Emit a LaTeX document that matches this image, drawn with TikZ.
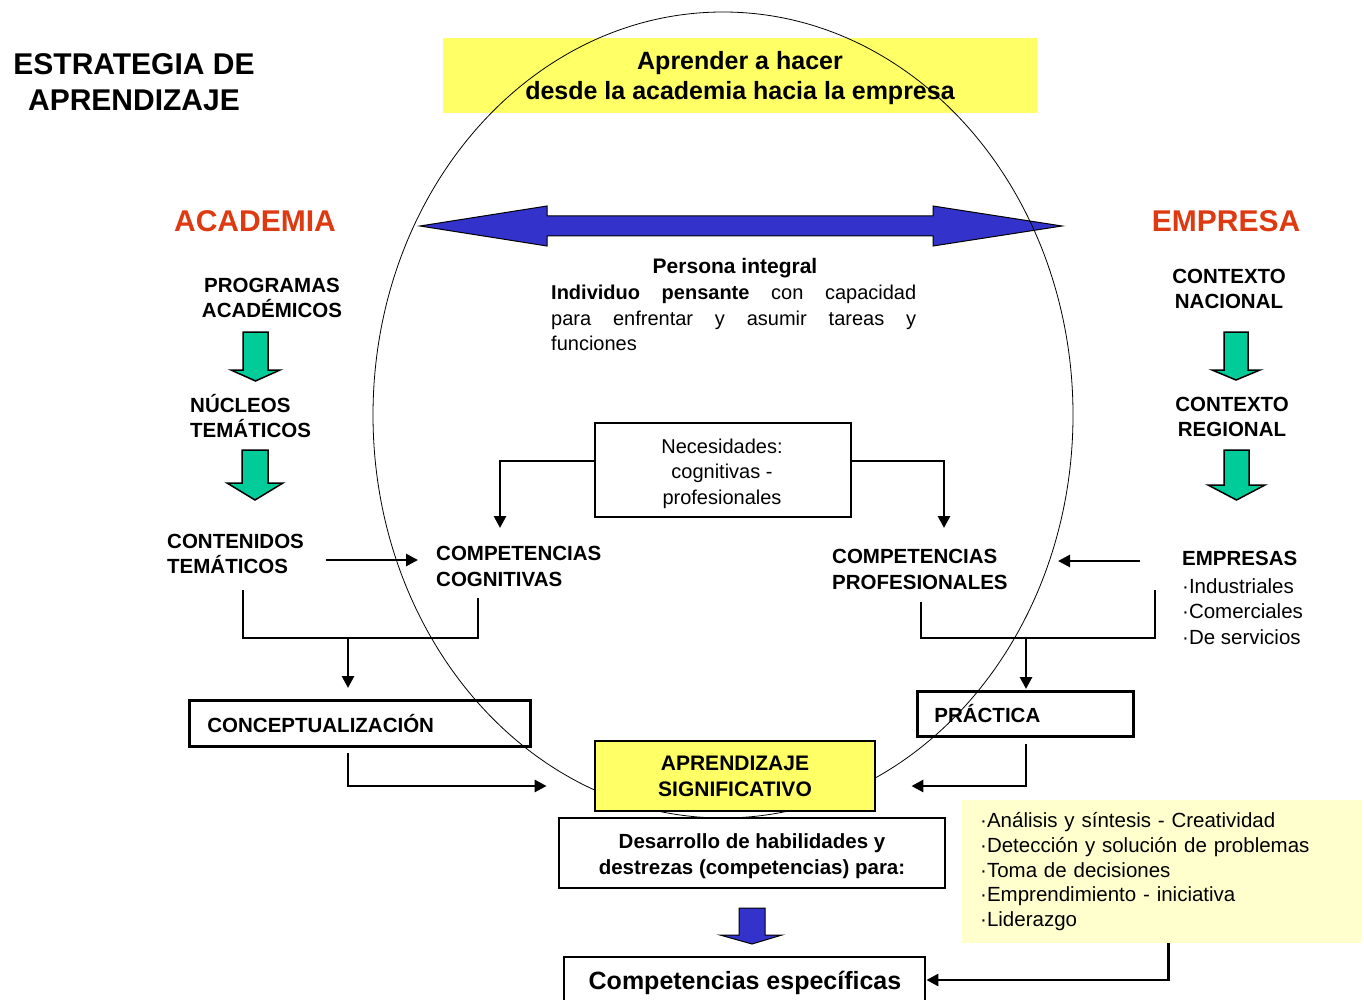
\documentclass[tikz,border=0pt]{standalone}
\usepackage{fontspec}
\setmainfont{Liberation Sans}
\usetikzlibrary{arrows.meta}
\definecolor{topyellow}{RGB}{255,255,102}
\definecolor{acad}{RGB}{221,58,18}
\definecolor{gfill}{RGB}{0,204,153}
\definecolor{bfill}{RGB}{51,51,204}
\definecolor{lyellow}{RGB}{255,255,206}
\newcommand{\myfs}[2]{\fontsize{#1}{#2}\selectfont}
\begin{document}
\begin{tikzpicture}[x=1pt,y=-1pt,
  lbl/.style={font=\bfseries\myfs{20.5}{25.5}, inner sep=0pt, align=left},
  reg/.style={font=\myfs{20}{25.5}, inner sep=0pt, align=left},
  head/.style={font=\bfseries\myfs{30}{36}, text=acad, inner sep=0pt},
  boxed/.style={draw, line width=2.8pt, inner sep=0pt},
  conn/.style={line width=2.8pt, -{Triangle[length=12pt,width=12pt]}},
  plain/.style={line width=2.8pt},
  green block/.style={draw=black, line width=1.5pt, fill=gfill, line join=miter},
  blue block/.style={draw=black, line width=1pt, fill=bfill, line join=miter},
]
\useasboundingbox (0,0) rectangle (1364,1000);
\clip (0,0) rectangle (1364,1000);

% title and top box
\node[font=\bfseries\myfs{30}{36}, align=center, inner sep=0pt] (title) at (134,82) {ESTRATEGIA DE\\APRENDIZAJE};
\node[fill=topyellow, minimum width=594pt, minimum height=75pt, inner sep=0pt] (topbox) at (740,75.5) {};
\node[font=\bfseries\myfs{25}{30}, align=center, inner sep=0pt] (toptext) at (740,78)
      {Aprender a hacer\\desde la academia hacia la empresa};

\node[head] (acad) at (255,221) {ACADEMIA};
\node[head] (empr) at (1226,221) {EMPRESA};

% blue double arrow
\draw[blue block] (420,226) -- (547,206) -- (547,216) -- (933,216) -- (933,206) -- (1062,226)
  -- (933,246) -- (933,236) -- (547,236) -- (547,246) -- cycle;

% central text
\node[font=\bfseries\myfs{21}{25}, inner sep=0pt] (persona) at (735,268.5) {Persona integral};
\node[reg, text width=365pt, align=justify, anchor=north west] (indiv) at (551,285)
  {{\bfseries Individuo pensante} con capacidad\linebreak para enfrentar y asumir tareas y\linebreak funciones};

% left column
\node[lbl, align=center] (prog) at (272,298) {PROGRAMAS\\ACADÉMICOS};
\draw[green block] (243,332) -- (268,332) -- (268,370) -- (280,370) -- (255.5,381) -- (231,370) -- (243,370) -- cycle;
\node[lbl, anchor=west] (nuc) at (190,416) {NÚCLEOS\\TEMÁTICOS};
\draw[green block] (242,450) -- (268,450) -- (268,483) -- (283,483) -- (255,500) -- (227,483) -- (242,483) -- cycle;
\node[lbl, anchor=west] (cont) at (167,554) {CONTENIDOS\\TEMÁTICOS};
\node[lbl, anchor=west] (cogn) at (436,566.5) {COMPETENCIAS\\COGNITIVAS};

% right column
\node[lbl, align=center] (nac) at (1229,289) {CONTEXTO\\NACIONAL};
\draw[green block] (1224,332) -- (1248,332) -- (1248,370) -- (1260,370) -- (1236,380) -- (1212,370) -- (1224,370) -- cycle;
\node[lbl, align=center] (regl) at (1232,417) {CONTEXTO\\REGIONAL};
\draw[green block] (1224,450) -- (1249,450) -- (1249,485) -- (1265,485) -- (1236.5,500) -- (1208,485) -- (1224,485) -- cycle;
\node[reg, anchor=west, font=\myfs{20.5}{25.5}] (emp) at (1182,598) {{\bfseries EMPRESAS}\\[2pt]·Industriales\\·Comerciales\\·De servicios};
\node[lbl, anchor=west] (prof) at (832,569.5) {COMPETENCIAS\\PROFESIONALES};

% necesidades
\node[boxed, minimum width=256pt, minimum height=94pt] (nec) at (723,470) {};
\node[font=\myfs{20}{25.5}, align=center, inner sep=0pt] (nectext) at (722,473.5)
  {Necesidades:\\cognitivas -\\profesionales};

% boxes
\node[boxed, anchor=north west, minimum width=341pt, minimum height=46pt, text width=305pt,
      inner xsep=18pt, align=left, font=\bfseries\myfs{20.5}{25.5}] (concept) at (188,699) {CONCEPTUALIZACIÓN};
\node[boxed, anchor=north west, minimum width=216pt, minimum height=45pt, text width=182pt,
      inner xsep=17pt, align=left, font=\bfseries\myfs{20.5}{25.5}] (practica) at (916,690) {PRÁCTICA};

% helper coordinates
\coordinate (cogin) at (500,528);
\coordinate (profin) at (944,528);
\coordinate (contout) at (326,560);
\coordinate (cogarr) at (418,560);
\coordinate (lb1) at (243,590);
\coordinate (lb2) at (478,598);
\coordinate (lbm) at (348,638);
\coordinate (rb1) at (921,602);
\coordinate (rb2) at (1155,590);
\coordinate (rbm) at (1026,638);
\coordinate (empout) at (1140,561);
\coordinate (profarr) at (1058,561);

% connectors
\draw[conn] ([yshift=9pt]nec.west) -| (cogin);
\draw[conn] ([yshift=9pt]nec.east) -| (profin);
\draw[conn] (contout) -- (cogarr);
\draw[conn] (empout) -- (profarr);
\draw[plain] (lb1) |- (lbm) -| (lb2);
\draw[plain] (rb1) |- (rbm) -| (rb2);
\draw[conn, shorten >=11pt] (lbm) -- (concept.north -| lbm);
\draw[conn, shorten >=1pt] (rbm) -- (practica.north -| rbm);

% ellipse
\draw[line width=0.8pt] (723,415) ellipse [x radius=350pt, y radius=403pt];

% central bottom boxes
\node[boxed, fill=topyellow, minimum width=280pt, minimum height=70pt, align=center,
      font=\bfseries\myfs{21}{26}] (apr) at (735,776) {APRENDIZAJE\\SIGNIFICATIVO};
\node[boxed, fill=white, minimum width=386pt, minimum height=70pt] (des) at (752,853) {};
\node[font=\bfseries\myfs{20.5}{26}, align=center, inner sep=0pt] (destext) at (752,856)
  {Desarrollo de habilidades y\\destrezas (competencias) para:};
\draw[blue block] (739,908) -- (765,908) -- (765,935) -- (782,935) -- (752,944) -- (720,935) -- (739,935) -- cycle;
\node[boxed, minimum width=361pt, minimum height=46pt] (espec) at (744.5,980) {};
\node[font=\bfseries\myfs{25}{30}, inner sep=0pt] (espectext) at (745,983) {Competencias específicas};
\node[fill=lyellow, anchor=north west, minimum width=400pt, minimum height=143pt, text width=364pt,
      inner xsep=18pt, inner ysep=0pt, align=left, font=\myfs{20.5}{24.8}] (skills) at (962,800)
  {·Análisis y síntesis - Creatividad\\·Detección y solución de problemas\\·Toma de decisiones\\·Emprendimiento - iniciativa\\·Liderazgo};

\draw[conn, shorten <=5pt, shorten >=47pt] (concept.south -| lbm) |- ([yshift=-10pt]apr.west);
\draw[conn, shorten <=6pt, shorten >=35pt] (practica.south -| rbm) |- ([yshift=-10pt]apr.east);
\draw[conn] ([xshift=6pt]skills.south) |- (espec.east);
\end{tikzpicture}
\end{document}
